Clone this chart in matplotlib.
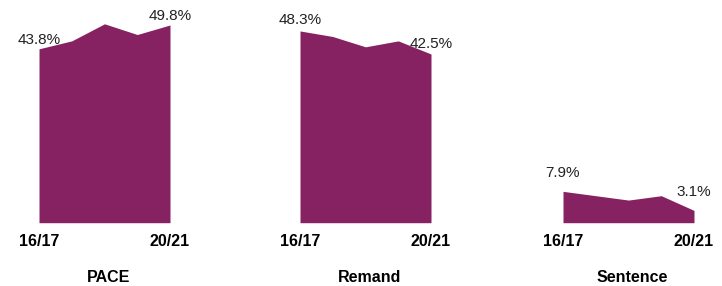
import numpy as np
import matplotlib
matplotlib.use("Agg")
import matplotlib.pyplot as plt

plt.rcParams["font.family"] = ["Liberation Sans", "DejaVu Sans"]

years = ["16/17", "17/18", "18/19", "19/20", "20/21"]
pace = [43.8, 45.8, 50.1, 47.4, 49.8]
remand = [48.3, 46.9, 44.3, 45.8, 42.5]
sentence = [7.9, 6.8, 5.7, 6.8, 3.1]
panels = ["PACE", "Remand", "Sentence"]
series = [pace, remand, sentence]

COLOR = "#862262"
W, H = 722, 286
lefts = [39, 300, 563]
width = 131
base_px = 222.7
px_per_pct = 3.97
ymax = 55
# label lift above point (points) per panel, roughly as in the original
lifts = [1.5, 2.5, 8]

fig = plt.figure(figsize=(W / 100, H / 100), dpi=100)
for name, vals, left, lift in zip(panels, series, lefts, lifts):
    ax = fig.add_axes([left / W, (H - base_px) / H, width / W,
                       ymax * px_per_pct / H])
    x = np.arange(len(vals))
    ax.fill_between(x, 0, vals, color=COLOR, linewidth=0)
    ax.set_xlim(0, len(vals) - 1)
    ax.set_ylim(0, ymax)
    for s in ax.spines.values():
        s.set_visible(False)
    ax.set_yticks([])
    ax.set_xticks([0, len(vals) - 1])
    ax.set_xticklabels([years[0], years[-1]], fontsize=11.5,
                       fontweight="bold")
    ax.tick_params(axis="x", length=0, pad=8)
    for i in (0, len(vals) - 1):
        ax.annotate(f"{vals[i]:.1f}%", (i, vals[i]), xytext=(0, lift),
                    textcoords="offset points", ha="center", va="bottom",
                    fontsize=11, color="#222222", clip_on=False)
    fig.text((left + width / 2 + 4) / W, (H - 277.5) / H, name, ha="center",
             va="center", fontsize=11.5, fontweight="bold")

fig.savefig("out.png", dpi=100)
